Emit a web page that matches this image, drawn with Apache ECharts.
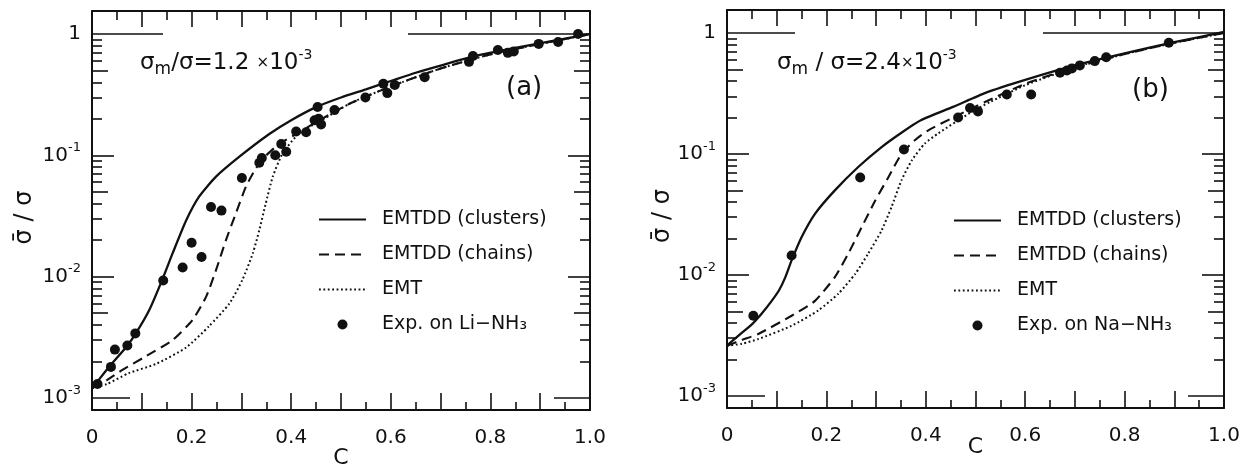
<!DOCTYPE html>
<html>
<head>
<meta charset="utf-8">
<script src="https://cdn.jsdelivr.net/npm/echarts@6/dist/echarts.min.js"></script>
<style>
html,body{margin:0;padding:0;background:#fff;}
#chart{width:1240px;height:468px;}
</style>
</head>
<body>
<div id="chart"></div>
<script>
// ---------------- DATA ----------------
const xTickLabels = [0, 0.2, 0.4, 0.6, 0.8, 1.0];
const yDecadeLabels = [0.001, 0.01, 0.1, 1];
const yMidDecades = [0.01, 0.1];
const yTopDecade = [1];
const yBottomDecade = [0.001];
const yFives = [0.005, 0.05, 0.5];
const yMinorTicks = [0.002, 0.003, 0.004, 0.006, 0.007, 0.008, 0.009,
                     0.02, 0.03, 0.04, 0.06, 0.07, 0.08, 0.09,
                     0.2, 0.3, 0.4, 0.6, 0.7, 0.8, 0.9];

const seriesNames = ['EMTDD (clusters)', 'EMTDD (chains)', 'EMT'];
const expNameA = 'Exp. on Li\u2212NH\u2083';
const expNameB = 'Exp. on Na\u2212NH\u2083';

// panel (a): sigma_m/sigma = 1.2e-3
const clustersA = [[0,0.0012],[0.007,0.0013],[0.034,0.0018],[0.068,0.0026],[0.088,0.0034],[0.115,0.0053],
  [0.141,0.0094],[0.162,0.0156],[0.189,0.029],[0.215,0.0456],[0.249,0.0667],[0.296,0.0975],[0.356,0.15],
  [0.4,0.195],[0.45,0.25],[0.5,0.3],[0.55,0.35],[0.6,0.41],[0.65,0.48],[0.7,0.55],[0.77,0.66],
  [0.85,0.77],[0.92,0.87],[1.0,1.0]];
const chainsA = [[0,0.0012],[0.03,0.0014],[0.061,0.0017],[0.108,0.0022],[0.162,0.003],[0.202,0.0044],
  [0.229,0.0068],[0.249,0.0113],[0.269,0.02],[0.289,0.0333],[0.309,0.055],[0.329,0.078],[0.35,0.1],
  [0.376,0.124],[0.416,0.155],[0.457,0.195],[0.52,0.27],[0.6,0.37],[0.7,0.52],[0.8,0.68],[0.9,0.83],[1.0,1.0]];
const emtA = [[0,0.0012],[0.03,0.0013],[0.074,0.0016],[0.128,0.0019],[0.189,0.0026],[0.235,0.0039],
  [0.276,0.006],[0.302,0.0094],[0.323,0.0156],[0.336,0.0242],[0.349,0.0402],[0.363,0.0667],
  [0.383,0.104],[0.416,0.152],[0.47,0.205],[0.52,0.27],[0.6,0.37],[0.7,0.52],[0.8,0.68],[0.9,0.83],[1.0,1.0]];
const expA = [[0.011,0.0013],[0.038,0.0018],[0.046,0.0025],[0.071,0.0027],[0.087,0.0034],[0.143,0.0093],
  [0.182,0.0119],[0.2,0.019],[0.22,0.0145],[0.239,0.0375],[0.26,0.035],[0.301,0.065],[0.336,0.087],
  [0.341,0.095],[0.368,0.1],[0.38,0.124],[0.39,0.107],[0.41,0.157],[0.43,0.155],[0.447,0.195],
  [0.453,0.25],[0.455,0.2],[0.46,0.18],[0.487,0.236],[0.549,0.3],[0.585,0.39],[0.593,0.326],
  [0.608,0.38],[0.668,0.44],[0.757,0.59],[0.765,0.66],[0.815,0.74],[0.835,0.70],[0.847,0.72],
  [0.897,0.83],[0.936,0.86],[0.976,1.0]];

// panel (b): sigma_m/sigma = 2.4e-3
const clustersB = [[0,0.0026],[0.025,0.0032],[0.05,0.0039],[0.07,0.0048],[0.09,0.0061],[0.105,0.0075],
  [0.117,0.0095],[0.13,0.0132],[0.15,0.0205],[0.177,0.032],[0.217,0.05],[0.264,0.078],[0.311,0.114],
  [0.351,0.15],[0.39,0.19],[0.455,0.245],[0.52,0.32],[0.6,0.41],[0.7,0.54],[0.8,0.68],[0.9,0.84],[1.0,1.02]];
const chainsB = [[0,0.0026],[0.03,0.0029],[0.063,0.00325],[0.13,0.0046],[0.177,0.0061],[0.217,0.0096],
  [0.244,0.015],[0.271,0.0248],[0.298,0.041],[0.325,0.0645],[0.351,0.1],[0.378,0.13],[0.405,0.157],
  [0.455,0.2],[0.52,0.27],[0.6,0.38],[0.7,0.52],[0.8,0.67],[0.9,0.83],[1.0,1.0]];
const emtB = [[0,0.0026],[0.03,0.0027],[0.063,0.00295],[0.13,0.0038],[0.184,0.0051],[0.224,0.007],
  [0.258,0.0102],[0.284,0.015],[0.311,0.0233],[0.331,0.0364],[0.351,0.0605],[0.372,0.0887],
  [0.398,0.122],[0.425,0.148],[0.49,0.22],[0.53,0.27],[0.6,0.37],[0.7,0.52],[0.8,0.67],[0.9,0.83],[1.0,1.0]];
const expB = [[0.053,0.0046],[0.13,0.0145],[0.268,0.064],[0.356,0.109],[0.465,0.2],[0.489,0.24],
  [0.505,0.225],[0.563,0.31],[0.612,0.31],[0.67,0.47],[0.684,0.49],[0.694,0.51],[0.71,0.54],
  [0.74,0.586],[0.763,0.63],[0.889,0.83]];

// ---------------- STYLE / LAYOUT ----------------
const FONT = 'DejaVu Sans';
const INK = '#111111';
const Y_MIN = 0.000794, Y_MAX = 1.55;

const grids = [
  {left: 92, top: 11, width: 498, height: 399, outerBoundsMode: 'none'},
  {left: 727, top: 10, width: 497, height: 398, outerBoundsMode: 'none'}
];

const tickLine = {color: INK, width: 1.6};

function yLabel(v) {
  if (Math.abs(v - 1) < 1e-9) return '{n|1}';
  const e = Math.round(Math.log10(v));
  return '{n|10}{s|-' + Math.abs(e) + '}';
}

function tickAxis(g, pos, values, len) {
  return {
    type: 'log', gridIndex: g, position: pos, min: Y_MIN, max: Y_MAX,
    axisLine: {show: false}, splitLine: {show: false}, axisLabel: {show: false},
    axisTick: {show: true, inside: true, length: len, customValues: values, lineStyle: tickLine}
  };
}

const yAxes = [];
const yMainIndex = [];
const longOne = [[71, 182], [68, 181]];
const nameGaps = [55, 52];
[0, 1].forEach(function (g) {
  yMainIndex.push(yAxes.length);
  yAxes.push({
    type: 'log', gridIndex: g, position: 'left', min: Y_MIN, max: Y_MAX,
    axisLine: {show: true, onZero: false, lineStyle: {color: INK, width: 2}},
    splitLine: {show: false},
    axisTick: {show: true, inside: true, length: 22, customValues: yMidDecades, lineStyle: tickLine},
    axisLabel: {
      customValues: yDecadeLabels, margin: 11, formatter: yLabel,
      rich: {
        n: {fontFamily: FONT, fontSize: 20, color: INK, lineHeight: 28, verticalAlign: 'middle'},
        s: {fontFamily: FONT, fontSize: 13, color: INK, lineHeight: 14, verticalAlign: 'top'}
      }
    },
    name: '\u03C3\u0304 / \u03C3', nameLocation: 'middle', nameRotate: 90, nameGap: nameGaps[g],
    nameMoveOverlap: false,
    nameTextStyle: {fontFamily: FONT, fontSize: 24, color: INK, padding: [0, 14, 0, 0]}
  });
  yAxes.push(tickAxis(g, 'left', yTopDecade, longOne[g][0]));
  yAxes.push(tickAxis(g, 'left', yBottomDecade, 38));
  yAxes.push(tickAxis(g, 'left', yFives, 16));
  yAxes.push(tickAxis(g, 'left', yMinorTicks, 10));
  const r = tickAxis(g, 'right', yMidDecades, 22);
  r.axisLine = {show: true, onZero: false, lineStyle: {color: INK, width: 2}};
  yAxes.push(r);
  yAxes.push(tickAxis(g, 'right', yTopDecade, longOne[g][1]));
  yAxes.push(tickAxis(g, 'right', yBottomDecade, 36));
  yAxes.push(tickAxis(g, 'right', yFives, 16));
  yAxes.push(tickAxis(g, 'right', yMinorTicks, 10));
});

const xAxes = [];
const xMainIndex = [];
const cGaps = [37, 28];
[0, 1].forEach(function (g) {
  xMainIndex.push(xAxes.length);
  xAxes.push({
    type: 'value', gridIndex: g, position: 'bottom', min: 0, max: 1, interval: 0.1,
    axisLine: {show: true, onZero: false, lineStyle: {color: INK, width: 2}},
    splitLine: {show: false},
    axisTick: {show: true, inside: true, length: 17, lineStyle: tickLine},
    minorTick: {show: true, splitNumber: 2, length: 8, lineStyle: tickLine},
    axisLabel: {
      customValues: xTickLabels, margin: 18, fontFamily: FONT, fontSize: 20, color: INK,
      formatter: function (v) { return v === 0 ? '0' : v.toFixed(1); }
    },
    name: 'C', nameLocation: 'middle', nameGap: cGaps[g], nameMoveOverlap: false,
    nameTextStyle: {fontFamily: FONT, fontSize: 22, color: INK}
  });
  xAxes.push({
    type: 'value', gridIndex: g, position: 'top', min: 0, max: 1, interval: 0.1,
    axisLine: {show: true, onZero: false, lineStyle: {color: INK, width: 2}},
    splitLine: {show: false},
    axisTick: {show: true, inside: true, length: 16, lineStyle: tickLine},
    minorTick: {show: true, splitNumber: 2, length: 9, lineStyle: tickLine},
    axisLabel: {show: false}
  });
});

function lineSeries(g, name, data, type, width) {
  return {
    type: 'line', name: name, xAxisIndex: xMainIndex[g], yAxisIndex: yMainIndex[g],
    data: data, symbol: 'none', showSymbol: false, smooth: 0.2, silent: true,
    itemStyle: {color: INK},
    lineStyle: {color: INK, width: width, type: type, cap: 'butt'}
  };
}
function dotSeries(g, name, data) {
  return {
    type: 'scatter', name: name, xAxisIndex: xMainIndex[g], yAxisIndex: yMainIndex[g],
    data: data, symbol: 'circle', symbolSize: 10, silent: true,
    itemStyle: {color: INK, opacity: 1}
  };
}

const series = [
  lineSeries(0, seriesNames[0], clustersA, 'solid', 2.3),
  lineSeries(0, seriesNames[1], chainsA, [10, 6], 2.1),
  lineSeries(0, seriesNames[2], emtA, [1.8, 2.6], 2),
  dotSeries(0, expNameA, expA),
  lineSeries(1, seriesNames[0], clustersB, 'solid', 2.3),
  lineSeries(1, seriesNames[1], chainsB, [10, 6], 2.1),
  lineSeries(1, seriesNames[2], emtB, [1.8, 2.6], 2),
  dotSeries(1, expNameB, expB)
];

function legendAt(left, top, expName) {
  const noDot = {opacity: 0};
  return {
    left: left, top: top, orient: 'vertical', itemWidth: 47, itemHeight: 10, itemGap: 16,
    selectedMode: false,
    textStyle: {fontFamily: FONT, fontSize: 19, color: INK, padding: [0, 0, 0, 11]},
    data: [
      {name: seriesNames[0], itemStyle: noDot},
      {name: seriesNames[1], itemStyle: noDot},
      {name: seriesNames[2], itemStyle: noDot},
      {name: expName, itemStyle: {color: INK, opacity: 1}}
    ]
  };
}

const richAnn = {
  b: {fontFamily: FONT, fontSize: 23, fill: INK, lineHeight: 30, verticalAlign: 'middle'},
  m: {fontFamily: FONT, fontSize: 17, fill: INK, lineHeight: 17, verticalAlign: 'bottom'},
  x: {fontFamily: FONT, fontSize: 15, fill: INK, lineHeight: 30, verticalAlign: 'middle'},
  s: {fontFamily: FONT, fontSize: 14, fill: INK, lineHeight: 15, verticalAlign: 'top'}
};

const option = {
  animation: false,
  backgroundColor: '#ffffff',
  grid: grids,
  xAxis: xAxes,
  yAxis: yAxes,
  legend: [legendAt(313, 205, expNameA), legendAt(948, 206, expNameB)],
  series: series,
  graphic: [
    {type: 'text', left: 140, top: 48, style: {text: '{b|\u03C3}{m|m}{b|/\u03C3=1.2 }{x|\u00D7}{b|10}{s|-3}', rich: richAnn}},
    {type: 'text', left: 777, top: 48, style: {text: '{b|\u03C3}{m|m}{b| / \u03C3=2.4}{x|\u00D7}{b|10}{s|-3}', rich: richAnn}},
    {type: 'text', left: 506, top: 75, style: {text: '(a)', fontFamily: FONT, fontSize: 26, fill: INK}},
    {type: 'text', left: 1132, top: 77, style: {text: '(b)', fontFamily: FONT, fontSize: 26, fill: INK}}
  ]
};

const chart = echarts.init(document.getElementById('chart'), null, {renderer: 'canvas'});
chart.setOption(option);
</script>
</body>
</html>
